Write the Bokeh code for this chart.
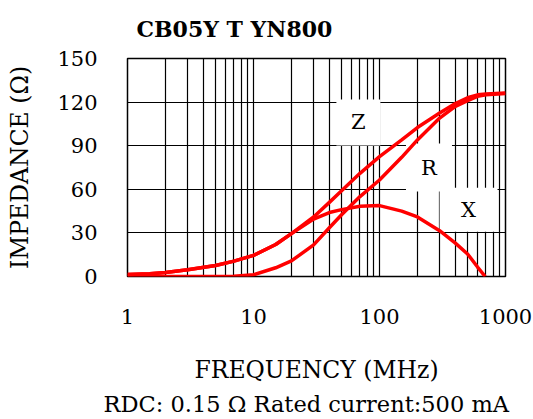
from bokeh.plotting import figure
from bokeh.models import FixedTicker, Range1d, Title
from bokeh.core.properties import value
from bokeh.embed import file_html
from bokeh.resources import INLINE

# ---- data ----
freq = [1, 1.5, 2, 3, 5, 7, 10, 15, 20, 30, 40, 50, 70, 100, 150, 200, 300, 400, 500, 600, 700, 1000]
z_imp = [1.3, 1.9, 2.8, 4.6, 7.6, 10.6, 14.5, 22.0, 29.5, 41.0, 51.0, 59.0, 71.0, 82.5, 94.0, 102.5,
         112.5, 119.0, 123.0, 125.0, 125.6, 126.3]
r_imp = [0.0, 0.0, 0.0, 0.0, 0.0, 0.1, 1.2, 6.0, 10.7, 21.8, 33.5, 42.5, 55.0, 66.4, 82.0, 94.0,
         109.0, 117.0, 121.0, 124.0, 125.0, 126.0]
x_freq = [1, 1.5, 2, 3, 5, 7, 10, 15, 20, 30, 40, 50, 70, 100, 150, 200, 300, 400, 500, 600, 690]
x_imp = [1.3, 1.9, 2.8, 4.6, 7.6, 10.6, 14.5, 22.0, 29.5, 39.5, 44.0, 46.0, 48.3, 48.8, 45.0, 41.0,
         31.5, 23.0, 15.5, 6.5, 0.0]

x_ticks = [1, 10, 100, 1000]
x_tick_labels = ["1", "10", "100", "1000"]
y_ticks = [0, 30, 60, 90, 120, 150]

curve_labels = ["Z", "R", "X"]
label_freq = [68, 247, 509]
label_imp = [106, 75, 46]

title_text = "CB05Y T YN800"
x_title = "FREQUENCY (MHz)"
y_title = "IMPEDANCE (\u03a9)"
note_text = "RDC: 0.15 \u03a9 Rated current:500 mA"

# ---- styles ----
FONT = "DejaVu Serif"
box_w = [44, 46, 58]
box_h = [46, 48, 44]

p = figure(width=533, height=419, x_axis_type="log",
           x_range=Range1d(1, 1000), y_range=Range1d(0, 150),
           output_backend="svg", toolbar_location=None,
           min_border_left=127, min_border_right=28,
           min_border_top=58, min_border_bottom=142,
           background_fill_color="white", border_fill_color="white")

p.outline_line_color = "black"
p.outline_line_width = 1.5
p.outline_line_alpha = 1

# title
p.title.text = title_text
p.title.text_font = FONT
p.title.text_font_style = "bold"
p.title.text_font_size = "22px"
p.title.text_color = "black"
p.title.align = "left"
p.title.vertical_align = "top"
p.title.offset = 9
p.title.standoff = 30

# grid
grid_freqs = [m * 10 ** k for k in range(3) for m in range(1, 10)] + [1000]
p.xgrid.ticker = FixedTicker(ticks=grid_freqs)
p.ygrid.ticker = FixedTicker(ticks=y_ticks)
for g in (p.xgrid, p.ygrid):
    g.grid_line_color = "black"
    g.grid_line_alpha = 1
    g.grid_line_width = 1.2

# axes
p.xaxis.ticker = FixedTicker(ticks=x_ticks)
p.xaxis.major_label_overrides = {t: s for t, s in zip(x_ticks, x_tick_labels)}
p.yaxis.ticker = FixedTicker(ticks=y_ticks)
for ax in (p.xaxis, p.yaxis):
    ax.axis_line_color = None
    ax.major_tick_line_color = None
    ax.minor_tick_line_color = None
    ax.major_label_text_font = FONT
    ax.major_label_text_font_size = "21px"
    ax.major_label_text_color = "black"
    ax.axis_label_text_font = FONT
    ax.axis_label_text_font_size = "23.5px"
    ax.axis_label_text_font_style = "normal"
    ax.axis_label_text_color = "black"

p.xaxis.axis_label = x_title
p.xaxis.major_label_standoff = 26
p.xaxis.axis_label_standoff = 29
p.yaxis.axis_label = y_title
p.yaxis.major_label_standoff = 24
p.yaxis.axis_label_standoff = 20

# note below
note = Title(text=note_text, align="left", offset=-24, text_font=FONT, text_font_size="22.5px",
             text_font_style="normal", text_color="black", standoff=5)
p.add_layout(note, "below")

# white label boxes
p.rect(x=label_freq, y=label_imp, width=box_w, height=box_h,
       width_units="screen", height_units="screen",
       fill_color="white", line_color=None)

# curves
p.line(freq, z_imp, line_color="#ff0000", line_width=3.5)
p.line(freq, r_imp, line_color="#ff0000", line_width=3.5)
p.line(x_freq, x_imp, line_color="#ff0000", line_width=3.5)

# curve labels
p.text(x=label_freq, y=label_imp, text=curve_labels, text_font=value(FONT),
       text_font_size="21px", text_align="center", text_baseline="middle",
       text_color="black")

open("out.html", "w").write(file_html(p, INLINE))
